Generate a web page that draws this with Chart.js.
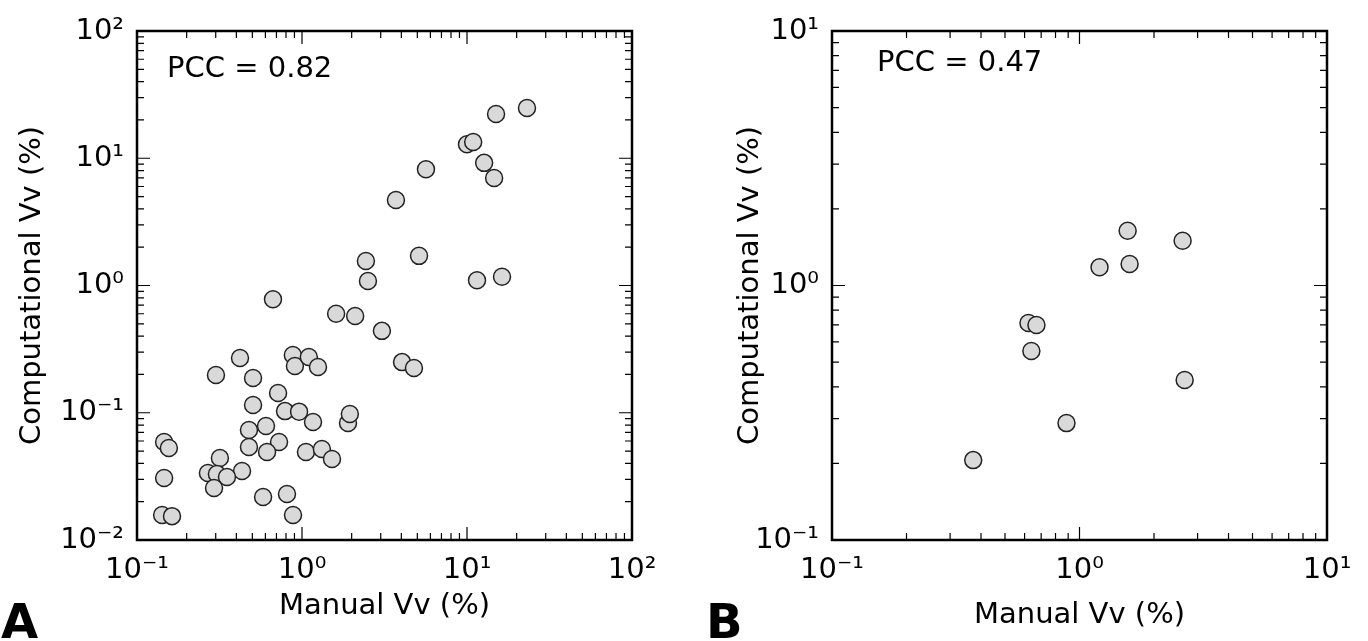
<!DOCTYPE html>
<html>
<head>
<meta charset="utf-8">
<script src="https://cdn.jsdelivr.net/npm/chart.js@4.4.1/dist/chart.umd.min.js"></script>
<style>
body { margin: 0; background: #fff; }
.panel { position: absolute; top: 0; width: 684px; height: 641px; }
.tag { position: absolute; top: 597px; font: bold 48px "DejaVu Sans", sans-serif; line-height: 48px; color: #000; }
</style>
</head>
<body>
<div class="panel" style="left:0"><canvas id="chartA" width="684" height="641"></canvas></div>
<div class="panel" style="left:684px"><canvas id="chartB" width="684" height="641"></canvas></div>
<div class="tag" style="left:1px">A</div>
<div class="tag" style="left:706px">B</div>
<script>
const FONT = '"DejaVu Sans", sans-serif';

// panel A : manual vs computational Vv (%)
const manualA = [23.1, 15.0, 10.0, 10.9, 12.7, 14.6, 5.64, 3.71, 5.12, 11.5,
    16.3, 3.05, 2.44, 2.51, 0.667, 1.61, 2.10, 0.421, 0.88, 0.906,
    1.10, 1.25, 0.301, 0.505, 0.716, 4.04, 4.77, 0.505, 0.789, 0.96,
    1.166, 1.90, 1.95, 0.605, 0.477, 0.146, 0.156, 0.726, 0.477, 0.614,
    1.057, 1.32, 1.52, 0.318, 0.433, 0.269, 0.305, 0.351, 0.146, 0.293,
    0.581, 0.811, 0.882, 0.142, 0.163];
const compA = [24.8, 22.3, 12.9, 13.4, 9.2, 7.0, 8.2, 4.7, 1.71, 1.10,
    1.17, 0.44, 1.56, 1.085, 0.78, 0.60, 0.575, 0.269, 0.284, 0.233,
    0.274, 0.229, 0.198, 0.1875, 0.143, 0.25, 0.225, 0.115, 0.103, 0.102,
    0.0846, 0.083, 0.0978, 0.0787, 0.0732, 0.0589, 0.0528, 0.0589, 0.0538, 0.0492,
    0.0492, 0.0519, 0.0433, 0.0441, 0.0348, 0.0336, 0.033, 0.0313, 0.0307, 0.0256,
    0.0218, 0.023, 0.0157, 0.0157, 0.0154];
const pccA = 'PCC = 0.82';

// panel B
const manualB = [0.622, 0.670, 0.639, 0.886, 0.372, 1.565, 2.61, 1.205, 1.594, 2.66];
const compB = [0.712, 0.70, 0.553, 0.288, 0.206, 1.64, 1.50, 1.18, 1.215, 0.425];
const pccB = 'PCC = 0.47';

// tick values and labels
const xTicksA = [0.1, 1, 10, 100];
const xLabelsA = ['10⁻¹', '10⁰', '10¹', '10²'];
const yTicksA = [0.01, 0.1, 1, 10, 100];
const yLabelsA = ['10⁻²', '10⁻¹', '10⁰', '10¹', '10²'];
const xTicksB = [0.1, 1, 10];
const xLabelsB = ['10⁻¹', '10⁰', '10¹'];
const yTicksB = [0.1, 1, 10];
const yLabelsB = ['10⁻¹', '10⁰', '10¹'];

// 1..9 x 10^e inside the axis range
function decadeTicks(min, max) {
    const out = [];
    for (let e = Math.floor(Math.log10(min)); e <= Math.ceil(Math.log10(max)); e++) {
        for (let k = 1; k <= 9; k++) {
            const v = k * Math.pow(10, e);
            if (v >= min * 0.999 && v <= max * 1.001) out.push({ value: v, major: k === 1 });
        }
    }
    return out;
}

// matplotlib style box: inward ticks on all four sides + the PCC text
const framePlugin = {
    id: 'frame',
    afterDatasetsDraw(chart, args, opts) {
        const ctx = chart.ctx;
        const { left, right, top, bottom } = chart.chartArea;
        const xs = chart.scales.x;
        const ys = chart.scales.y;

        ctx.save();
        ctx.strokeStyle = '#000';
        ctx.lineWidth = 1.2;
        ctx.beginPath();
        for (const t of decadeTicks(xs.min, xs.max)) {
            const px = xs.getPixelForValue(t.value);
            const len = t.major ? 13 : 7;
            ctx.moveTo(px, bottom); ctx.lineTo(px, bottom - len);
            ctx.moveTo(px, top); ctx.lineTo(px, top + len);
        }
        for (const t of decadeTicks(ys.min, ys.max)) {
            const py = ys.getPixelForValue(t.value);
            const len = t.major ? 13 : 7;
            ctx.moveTo(left, py); ctx.lineTo(left + len, py);
            ctx.moveTo(right, py); ctx.lineTo(right - len, py);
        }
        ctx.stroke();

        ctx.lineWidth = 2.5;
        ctx.strokeRect(left, top, right - left, bottom - top);

        ctx.fillStyle = '#000';
        ctx.font = '29px ' + FONT;
        ctx.textBaseline = 'alphabetic';
        ctx.textAlign = 'left';
        ctx.fillText(opts.text, left + opts.dx, top + opts.dy);
        ctx.restore();
    }
};

function makeChart(id, xs, ys, xt, xl, yt, yl, pcc, cfg) {
    const points = xs.map((v, i) => ({ x: v, y: ys[i] }));
    const tickFont = { family: FONT, size: 29 };

    return new Chart(document.getElementById(id), {
        type: 'scatter',
        data: {
            datasets: [{
                data: points,
                pointRadius: 8.5,
                pointHoverRadius: 8.5,
                borderWidth: 1.5,
                backgroundColor: '#d9d9d9',
                borderColor: '#222222'
            }]
        },
        options: {
            responsive: false,
            animation: false,
            events: [],
            layout: { padding: { top: 31, right: cfg.right, left: 0, bottom: 0 } },
            plugins: {
                legend: { display: false },
                tooltip: { enabled: false },
                frame: { text: pcc, dx: cfg.dx, dy: cfg.dy }
            },
            scales: {
                x: {
                    type: 'logarithmic',
                    min: xt[0],
                    max: xt[xt.length - 1],
                    grid: { display: false, drawTicks: false },
                    border: { display: false },
                    afterBuildTicks: s => { s.ticks = xt.map(v => ({ value: v })); },
                    afterFit: s => { s.height = 101; },
                    ticks: {
                        autoSkip: false,
                        maxRotation: 0,
                        padding: 13,
                        color: '#000',
                        font: tickFont,
                        callback: (v, i) => xl[i]
                    },
                    title: {
                        display: true,
                        text: 'Manual Vv (%)',
                        color: '#000',
                        font: tickFont,
                        padding: { top: 0, bottom: cfg.xTitlePad }
                    }
                },
                y: {
                    type: 'logarithmic',
                    min: yt[0],
                    max: yt[yt.length - 1],
                    grid: { display: false, drawTicks: false },
                    border: { display: false },
                    afterBuildTicks: s => { s.ticks = yt.map(v => ({ value: v })); },
                    afterFit: s => { s.width = cfg.yWidth; },
                    ticks: {
                        autoSkip: false,
                        padding: 13,
                        color: '#000',
                        font: tickFont,
                        callback: (v, i) => yl[i]
                    },
                    title: {
                        display: true,
                        text: 'Computational Vv (%)',
                        color: '#000',
                        font: tickFont,
                        padding: { top: cfg.yTitlePad, bottom: 0 }
                    }
                }
            }
        },
        plugins: [framePlugin]
    });
}

makeChart('chartA', manualA, compA, xTicksA, xLabelsA, yTicksA, yLabelsA, pccA,
    { right: 52, yWidth: 137, yTitlePad: 15, xTitlePad: 17, dx: 30, dy: 46 });
makeChart('chartB', manualB, compB, xTicksB, xLabelsB, yTicksB, yLabelsB, pccB,
    { right: 41, yWidth: 148, yTitlePad: 49, xTitlePad: 8, dx: 45, dy: 40 });
</script>
</body>
</html>
